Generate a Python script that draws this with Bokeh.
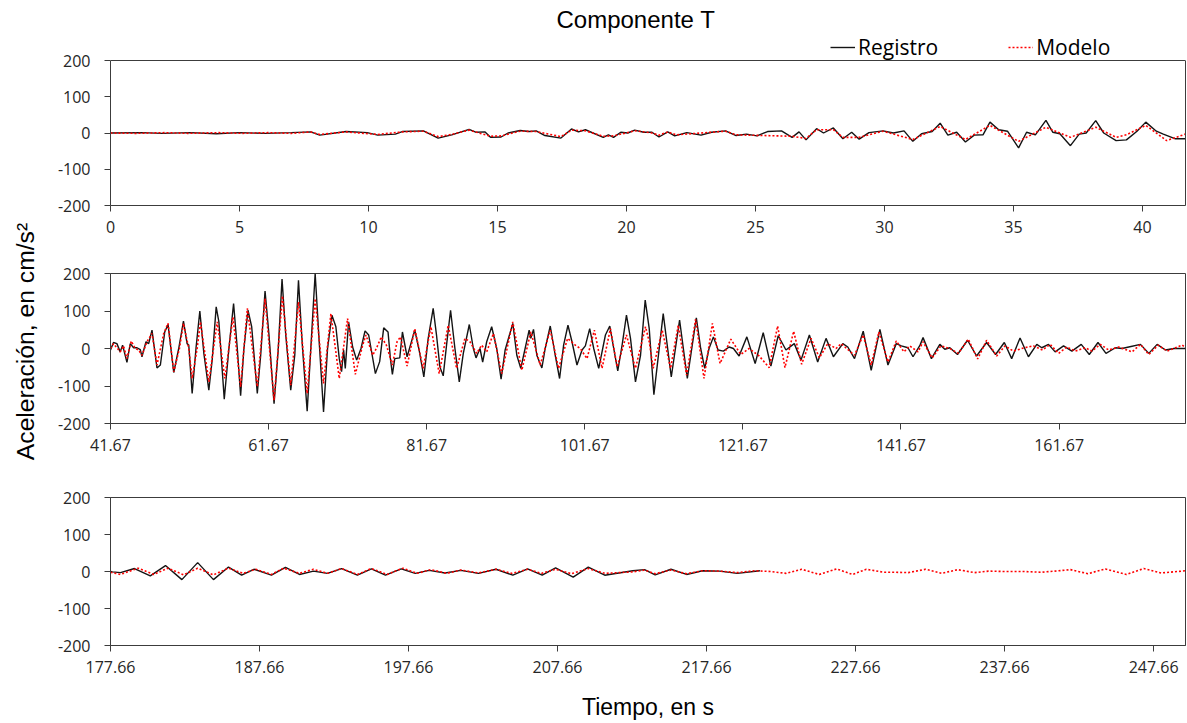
from bokeh.plotting import figure
from bokeh.layouts import column, row
from bokeh.models import Range1d, FixedTicker, Label, LinearAxis, Span, Legend, LegendItem
from bokeh.embed import file_html
from bokeh.resources import INLINE

TITLE = "Componente T"
SERIES = ["Registro", "Modelo"]
Y_LABEL = "Aceleración, en cm/s²"
X_LABEL = "Tiempo, en s"

Y_TICKS = [-200, -100, 0, 100, 200]
Y_TICK_LABELS = ["-200", "-100", "0", "100", "200"]

X1_RANGE = (0, 41.67)
X1_TICKS = [0, 5, 10, 15, 20, 25, 30, 35, 40]
X1_TICK_LABELS = ["0", "5", "10", "15", "20", "25", "30", "35", "40"]

X2_RANGE = (41.67, 177.66)
X2_TICKS = [41.67, 61.67, 81.67, 101.67, 121.67, 141.67, 161.67]
X2_TICK_LABELS = ["41.67", "61.67", "81.67", "101.67", "121.67", "141.67", "161.67"]

X3_RANGE = (177.66, 249.8)
X3_TICKS = [177.66, 187.66, 197.66, 207.66, 217.66, 227.66, 237.66, 247.66]
X3_TICK_LABELS = ["177.66", "187.66", "197.66", "207.66", "217.66", "227.66", "237.66", "247.66"]

# (time s, acceleration cm/s2)
registro_1 = [(0, 0), (1.2, 1), (2.0, -1), (3.1, 1), (4.1, -2), (5.0, 1), (6.0, -1), (7.0, 1), (7.76, 3),
              (8.11, -6), (9.13, 4), (9.95, 1), (10.36, -6), (11.04, -3), (11.31, 4), (12.13, 6), (12.7, -14),
              (13.23, -5), (13.9, 10), (14.18, 2), (14.52, 3), (14.73, -12), (15.14, -11), (15.41, 0),
              (15.88, 7), (16.23, 4), (16.5, 6), (16.84, -7), (17.46, -14), (17.87, 11), (18.14, 3),
              (18.41, 9), (19.1, -12), (19.3, -5), (19.5, -12), (19.78, 2), (20.05, 0), (20.32, 8),
              (20.67, 2), (20.99, 2), (21.26, -11), (21.6, 3), (21.87, -8), (22.34, 1), (22.89, -6),
              (23.3, 2), (23.84, 6), (24.25, -7), (24.65, -3), (25.06, -8), (25.47, 4), (26.01, 6),
              (26.42, -12), (26.69, 3), (26.96, -19), (27.37, 12), (27.64, 0), (28.02, 14), (28.39, -16),
              (28.73, 2), (29.02, -17), (29.4, 1), (29.95, 6), (30.35, 0), (30.76, 6), (31.1, -23),
              (31.44, -2), (31.85, 4), (32.16, 27), (32.46, -6), (32.8, 2), (33.14, -25), (33.48, -6),
              (33.82, -5), (34.09, 30), (34.43, 9), (34.77, 5), (35.2, -41), (35.51, 2), (35.85, -5),
              (36.26, 35), (36.53, 2), (36.8, -2), (37.21, -35), (37.55, -3), (37.82, 0), (38.19, 34),
              (38.5, 0), (38.98, -21), (39.38, -19), (39.79, 5), (40.13, 30), (40.54, 5), (40.81, -3),
              (41.28, -16), (41.67, -16)]
modelo_1 = [(0, 0), (1.0, -1), (2.1, 1), (3.0, -1), (4.2, 1), (5.1, -1), (6.1, 1), (7.0, -1), (7.76, 3),
            (8.11, -4), (9.13, 3), (10.36, -4), (11.31, 3), (12.13, 5), (12.7, -10), (13.23, -4), (13.9, 8),
            (14.73, -9), (15.14, -8), (15.88, 5), (16.5, 4), (17.46, -10), (17.87, 8), (18.41, 6),
            (19.1, -9), (19.5, -8), (20.32, 6), (20.99, 0), (21.26, -6), (21.6, 3), (21.94, -5),
            (23.84, 5), (24.25, -5), (26.42, -9), (26.96, -15), (27.37, 9), (28.02, 9), (28.39, -12),
            (29.02, -12), (29.95, 5), (31.1, -18), (32.16, 18), (33.14, -18), (34.09, 21), (35.2, -23),
            (36.26, 16), (37.21, -12), (38.19, 16), (38.98, -12), (39.38, -5), (40.13, 21), (40.94, -21),
            (41.67, -3)]

registro_2 = [(41.67, -4), (42.05, 16), (42.48, 13), (42.9, -9), (43.2, 9), (43.75, -37), (44.17, 13),
              (44.59, 2), (45.02, 2), (45.44, -3), (45.65, -22), (46.16, 18), (46.5, 13), (46.92, 49),
              (47.55, -52), (47.98, -44), (48.53, 44), (48.95, 64), (49.67, -64), (50.3, 0), (50.9, 73),
              (51.36, 13), (51.57, 9), (52.0, -120), (52.5, 4), (52.97, 100), (53.48, -13), (54.11, -111),
              (54.53, -31), (55.04, 111), (55.38, 71), (56.06, -135), (56.65, 0), (57.24, 120), (57.71, 0),
              (58.13, -126), (58.55, 0), (59.06, 102), (59.53, 58), (60.24, -120), (60.67, -18),
              (61.22, 153), (61.72, 36), (62.36, -147), (62.87, -9), (63.37, 185), (63.84, 36),
              (64.47, -111), (64.98, -18), (65.45, 182), (65.95, 4), (66.55, -167), (67.01, 0),
              (67.56, 200), (68.07, 18), (68.62, -169), (69.13, 0), (69.68, 89), (70.18, 58), (70.61, -27),
              (70.9, -62), (71.16, -4), (71.37, -53), (71.79, 71), (72.3, 4), (72.81, -31), (73.36, 0),
              (73.87, 47), (74.33, 36), (75.18, -67), (75.72, -35), (76.23, 55), (76.78, 44), (77.08, -27),
              (77.33, -69), (77.63, -27), (78.26, -25), (78.6, 44), (79.19, -22), (79.74, 18), (80.16, 49),
              (80.71, -4), (81.31, -76), (81.86, 27), (82.49, 107), (82.91, 36), (83.34, -49), (83.76, -73),
              (84.18, 9), (84.69, 102), (85.24, 0), (85.79, -89), (86.3, -13), (87.06, 64), (87.57, 0),
              (87.91, -25), (88.41, 0), (88.75, -36), (89.26, 18), (89.89, 58), (90.53, 0), (91.08, -82),
              (91.59, -4), (92.56, 67), (93.07, -18), (93.57, -53), (94.12, 0), (94.63, 49), (94.84, 27),
              (95.18, 51), (95.6, -18), (96.24, -52), (96.66, 0), (97.3, 60), (97.93, -18), (98.48, -80),
              (98.99, 9), (99.54, 62), (100.05, 18), (100.68, -44), (101.32, -4), (101.74, 7), (102.29, 53),
              (102.8, 0), (103.43, -53), (104.28, 36), (104.83, 60), (105.33, 0), (105.84, -60),
              (106.39, 9), (106.94, 89), (107.45, 27), (108.08, -89), (108.72, -18), (109.31, 129),
              (109.82, 53), (110.41, -123), (111.59, 93), (112.61, -76), (113.66, 76), (114.64, -80),
              (115.78, 82), (116.33, 0), (116.84, -53), (117.39, 0), (117.94, 31), (118.53, -4),
              (119.2, -7), (119.92, 4), (120.47, 0), (121.19, -20), (122.17, 31), (123.22, -40),
              (124.24, 42), (125.21, -47), (126.14, 34), (127.12, -4), (128.17, 13), (129.02, -31),
              (130.08, 36), (131.13, -36), (132.19, 27), (133.12, -22), (134.31, 13), (134.94, 4),
              (135.79, -27), (136.89, 46), (137.9, -58), (139.0, 51), (140.02, -44), (141.07, 13),
              (141.71, 7), (142.55, 2), (143.19, -22), (144.08, 9), (144.46, 29), (145.52, -27),
              (146.58, 11), (147.21, -2), (147.85, 2), (148.82, -16), (150.09, 22), (151.23, -20),
              (152.5, 16), (153.64, -16), (154.74, 16), (155.67, -27), (156.73, 28), (157.79, -22),
              (158.85, 11), (159.48, 2), (160.33, 11), (161.17, -9), (162.23, 7), (163.29, -7),
              (164.47, 11), (165.49, -16), (166.59, 16), (167.6, -13), (168.79, 2), (169.63, 0),
              (170.48, 4), (171.96, 11), (173.02, -13), (174.07, 11), (175.13, -4), (176.19, 0),
              (177.66, 0)]
modelo_2 = [(41.67, 0), (42.05, 13), (42.9, -9), (43.32, 7), (43.75, -27), (44.3, 20), (44.8, 0),
            (45.23, -4), (45.65, -18), (46.28, 18), (46.92, 40), (47.55, -44), (48.4, 40), (48.95, 67),
            (49.67, -62), (50.39, 0), (50.9, 67), (51.57, 0), (52.0, -80), (52.63, 0), (53.05, 71),
            (54.11, -89), (55.17, 71), (56.14, -80), (57.16, 84), (58.13, -102), (58.98, 107),
            (60.24, -102), (61.22, 133), (62.36, -138), (63.42, 140), (64.47, -98), (65.45, 124),
            (66.55, -120), (67.56, 133), (68.62, -93), (69.55, 93), (70.61, -80), (71.66, 80),
            (72.64, -69), (73.57, 9), (73.99, 36), (74.84, -18), (75.3, 0), (75.93, 31), (76.57, 9),
            (77.33, -44), (77.92, 18), (78.35, 31), (79.19, -47), (80.16, 53), (81.22, -53), (82.2, 58),
            (83.25, -67), (84.39, 62), (85.45, -53), (86.51, 27), (87.14, 18), (87.99, -13), (88.62, 9),
            (89.26, -9), (90.11, 40), (91.16, -67), (92.56, 71), (93.7, -58), (94.84, 44), (96.03, -44),
            (97.3, 49), (98.35, -53), (99.5, 27), (100.47, 9), (101.1, 0), (101.95, -27), (102.88, 49),
            (103.85, -53), (104.91, 53), (105.76, -49), (106.94, 36), (108.08, -53), (109.35, 58),
            (109.82, 18), (110.32, -53), (111.46, 49), (112.52, -53), (113.49, 62), (114.55, -71),
            (115.69, 78), (116.75, -80), (117.81, 67), (118.78, -40), (120.14, 25), (121.4, -16),
            (122.46, 0), (123.73, -20), (125.0, -51), (126.06, 60), (126.99, -51), (128.09, 46),
            (129.1, -42), (130.29, 27), (131.35, -25), (132.4, 13), (133.46, 0), (134.09, 13),
            (135.79, -18), (136.89, 36), (137.9, -44), (138.87, 44), (140.02, -36), (141.07, 20),
            (142.05, -9), (142.77, 7), (143.82, -9), (144.46, 18), (145.61, -25), (146.71, 7),
            (147.85, 0), (148.91, -13), (150.18, 25), (151.36, -28), (152.5, 22), (153.77, -20),
            (154.83, 7), (155.89, -7), (157.28, 2), (158.42, 7), (159.57, -4), (160.54, 11),
            (161.6, -13), (162.65, 4), (163.71, -7), (164.98, 2), (165.83, -7), (166.88, 11),
            (167.94, -4), (169.21, 4), (170.9, -9), (171.96, 11), (173.02, -16), (174.2, 9),
            (175.34, -7), (177.25, 9), (177.66, 2)]

registro_3 = [(177.66, 0), (177.79, -1), (178.33, -3), (179.27, 8), (180.33, -12), (181.35, 16),
              (182.45, -22), (183.51, 24), (184.57, -22), (185.58, 12), (186.46, -10), (187.28, 6),
              (188.46, -10), (189.4, 11), (190.34, -8), (191.28, 1), (192.22, -5), (193.17, 8),
              (194.23, -10), (195.17, 7), (196.11, -10), (197.17, 7), (198.11, -5), (199.05, 3),
              (200.11, -4), (201.17, 3), (202.35, -5), (203.53, 6), (204.66, -10), (205.65, 7),
              (206.63, -10), (207.53, 10), (208.71, -15), (209.72, 12), (210.83, -10), (211.77, -4),
              (212.71, 2), (213.5, 5), (214.21, -9), (215.27, 6), (216.32, -8), (217.38, 2),
              (218.55, 1), (219.72, -5), (221.24, 2)]
modelo_3 = [(177.66, -2), (178.33, -8), (179.51, 9), (180.57, -8), (181.51, 9), (182.57, -9),
            (183.51, 9), (184.57, -9), (185.58, 9), (186.57, -5), (187.4, 6), (188.46, -8), (189.28, 9),
            (190.34, -5), (191.28, 6), (192.22, -5), (193.17, 8), (194.23, -8), (195.17, 8),
            (196.23, -8), (197.29, 9), (198.23, -5), (199.17, 5), (200.23, -5), (201.17, 4),
            (202.35, -4), (203.53, 6), (204.59, -5), (205.65, 6), (206.59, -5), (207.53, 6),
            (208.59, -6), (209.72, 8), (210.83, -5), (211.77, -3), (212.71, -1), (213.5, 4),
            (214.21, -6), (215.27, 4), (216.32, -6), (217.38, 2), (218.55, 1), (219.72, -3),
            (220.89, 2), (221.94, 0), (223.0, -5), (224.05, 6), (225.22, -8), (226.39, 7),
            (227.45, -8), (228.38, 6), (229.55, -2), (230.26, -2), (231.19, -3), (232.36, 6),
            (233.42, -5), (234.52, 5), (235.64, -3), (236.58, 1), (237.75, 0), (238.92, 0),
            (240.09, -2), (241.03, 1), (242.08, 5), (243.25, -6), (244.42, 7), (245.83, -8),
            (247.0, 8), (248.17, -4), (249.8, 2)]

REG_COLOR = "#141414"
MOD_COLOR = "#ff0000"
AXIS_COLOR = "#3c3c3c"
TICK_FONT = "Open Sans"
LABEL_FONT = "Liberation Sans"
LABEL_W = 50
W = 1187 - LABEL_W
H = 722
REG_STYLE = dict(line_color=REG_COLOR, line_width=1.4)
MOD_STYLE = dict(line_color=MOD_COLOR, line_width=1.6, line_dash="2 2")

# first panel: the frame is extended upward to host the legend; box drawn at +-200
P1_H, P1_TOP, P1_BOTTOM, P1_BOX = 250, 32, 45, 145
Y1_TOP = -200 + 400 * (P1_H - P1_TOP - P1_BOTTOM) / P1_BOX


def make_panel(x_range, xticks, xlabels, reg, mod, height, top, bottom, y_top=200):
    p = figure(width=W, height=height, x_range=Range1d(*x_range), y_range=Range1d(-200, y_top),
               output_backend="svg", toolbar_location=None,
               min_border_left=110 - LABEL_W, min_border_right=2, min_border_top=top,
               min_border_bottom=bottom)
    p.xgrid.visible = False
    p.ygrid.visible = False
    p.outline_line_color = AXIS_COLOR
    p.outline_line_width = 1
    p.outline_line_alpha = 1

    p.xaxis.ticker = FixedTicker(ticks=xticks)
    p.xaxis.major_label_overrides = {t: l for t, l in zip(xticks, xlabels)}
    p.yaxis.ticker = FixedTicker(ticks=Y_TICKS)
    p.yaxis.major_label_overrides = {t: l for t, l in zip(Y_TICKS, Y_TICK_LABELS)}
    for ax in (p.xaxis, p.yaxis):
        ax.axis_line_color = AXIS_COLOR
        ax.major_tick_line_color = AXIS_COLOR
        ax.major_tick_out = 6
        ax.major_tick_in = 0
        ax.minor_tick_line_color = None
        ax.major_label_text_font = TICK_FONT
        ax.major_label_text_font_size = "16px"
        ax.major_label_text_color = "#262626"
    p.xaxis.major_label_standoff = 9
    p.yaxis.major_label_standoff = 14

    r1 = p.line([a for a, b in reg], [b for a, b in reg], **REG_STYLE)
    r2 = p.line([a for a, b in mod], [b for a, b in mod], **MOD_STYLE)
    return p, r1, r2


p1, g1, g2 = make_panel(X1_RANGE, X1_TICKS, X1_TICK_LABELS, registro_1, modelo_1,
                        P1_H, P1_TOP, P1_BOTTOM, y_top=Y1_TOP)
p1.title.text = TITLE
p1.title.align = "left"
p1.title.offset = 446
p1.title.text_font = LABEL_FONT
p1.title.text_font_size = "24px"
p1.title.text_font_style = "normal"
p1.title.text_color = "#000000"
p1.title.standoff = 0
p1.outline_line_color = None
p1.yaxis.bounds = (-200, 200)
p1.add_layout(LinearAxis(ticker=FixedTicker(ticks=[]), bounds=(-200, 200), axis_line_color=AXIS_COLOR,
                         major_tick_line_color=None, minor_tick_line_color=None,
                         major_label_text_font_size="0px"), "right")
p1.add_layout(Span(location=200, dimension="width", line_color=AXIS_COLOR, line_width=1))

lg = Legend(items=[LegendItem(label=SERIES[0], renderers=[g1]),
                   LegendItem(label=SERIES[1], renderers=[g2])],
            location=(720, 144), orientation="horizontal")
lg.background_fill_alpha = 0
lg.border_line_alpha = 0
lg.padding = 0
lg.margin = 0
lg.spacing = 70
lg.glyph_width = 25
lg.glyph_height = 22
lg.label_height = 22
lg.label_standoff = 3
lg.label_text_font = TICK_FONT
lg.label_text_font_size = "21px"
lg.label_text_color = "#000000"
p1.add_layout(lg)

p2, _, _ = make_panel(X2_RANGE, X2_TICKS, X2_TICK_LABELS, registro_2, modelo_2, 224, 23, 51)
p3, _, _ = make_panel(X3_RANGE, X3_TICKS, X3_TICK_LABELS, registro_3, modelo_3, H - 474, 23, H - 474 - 173)
p3.xaxis.axis_label = X_LABEL
p3.xaxis.axis_label_text_font = LABEL_FONT
p3.xaxis.axis_label_text_font_size = "23px"
p3.xaxis.axis_label_text_font_style = "normal"
p3.xaxis.axis_label_text_color = "#000000"
p3.xaxis.axis_label_standoff = 18

# narrow strip that carries the shared vertical axis title
side = figure(width=LABEL_W, height=H, x_range=Range1d(0, LABEL_W), y_range=Range1d(0, H),
              output_backend="svg", toolbar_location=None, x_axis_location=None, y_axis_location=None,
              min_border_left=0, min_border_right=0, min_border_top=0, min_border_bottom=0)
side.outline_line_color = None
side.xgrid.visible = False
side.ygrid.visible = False
side.add_layout(Label(x=25, y=H - 341, text=Y_LABEL, angle=90, angle_units="deg",
                      text_align="center", text_baseline="middle", text_font=LABEL_FONT,
                      text_font_size="24.7px", text_color="#000000"))

layout = row(side, column(p1, p2, p3, spacing=0), spacing=0)
open("out.html", "w").write(file_html(layout, INLINE))
